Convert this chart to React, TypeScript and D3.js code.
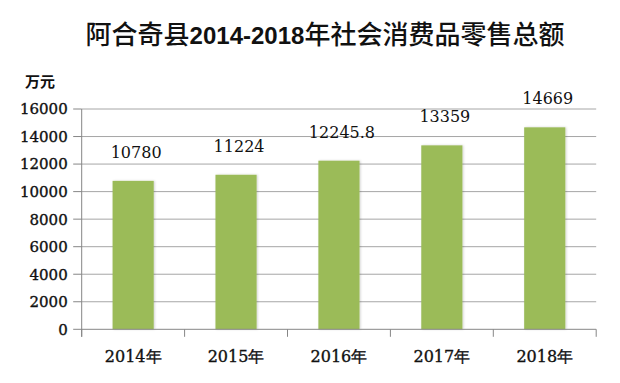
import React from "react";
import * as d3 from "d3";

const years = ["2014年", "2015年", "2016年", "2017年", "2018年"];
const values = [10780, 11224, 12245.8, 13359, 14669];
const valueLabels = ["10780", "11224", "12245.8", "13359", "14669"];
const yTicks = [0, 2000, 4000, 6000, 8000, 10000, 12000, 14000, 16000];
const titleParts = ["阿合奇县", "2014-2018", "年社会消费品零售总额"];
const unitLabel = "万元";

const W = 620;
const H = 383;
const left = 81.7;
const right = 596.2;
const top = 109;
const bottom = 329.3;

export default function App() {
  const x = d3.scaleBand<string>().domain(years).range([left, right]).paddingInner(0.6).paddingOuter(0.3);
  const y = d3.scaleLinear().domain([0, 16000]).range([bottom, top]);
  const step = x.step();
  const boundaries = d3.range(years.length + 1).map((i) => left + i * step);
  const serif = "'DejaVu Serif', serif";
  const heavy = { stroke: "#111", strokeWidth: 0.35 };
  return (
    <svg width={W} height={H} style={{ position: "absolute", left: 0, top: 0, background: "#fff" }}>
      <defs>
        <filter id="sh" x="-20%" y="-5%" width="140%" height="110%">
          <feDropShadow dx="1" dy="0" stdDeviation="1" floodColor="#000" floodOpacity="0.18" />
        </filter>
      </defs>
      <rect x={0} y={0} width={W} height={H} fill="#fff" />
      <text x={325} y={44} textAnchor="middle" fill="#111">
        <tspan fontFamily="'Noto Sans CJK SC'" fontSize={26} fontWeight={500}>{titleParts[0]}</tspan>
        <tspan fontFamily="'Liberation Sans', sans-serif" fontSize={24} fontWeight={700}>{titleParts[1]}</tspan>
        <tspan fontFamily="'Noto Sans CJK SC'" fontSize={26} fontWeight={500}>{titleParts[2]}</tspan>
      </text>
      <text x={40} y={87} textAnchor="middle" fontFamily="'Noto Sans CJK SC'" fontWeight={700} fontSize={15} fill="#111">
        {unitLabel}
      </text>
      {yTicks.map((t) => (
        <g key={t}>
          {t > 0 && <line x1={left} x2={right} y1={y(t)} y2={y(t)} stroke="#a6a6a6" strokeWidth={1} />}
          <line x1={left - 8.5} x2={left} y1={y(t)} y2={y(t)} stroke="#868686" strokeWidth={1} />
          <text x={left - 14} y={y(t)} dy="0.36em" textAnchor="end" fontFamily={serif} fontSize={15} fill="#111" {...heavy}>
            {t}
          </text>
        </g>
      ))}
      {years.map((yr, i) => (
        <rect
          key={yr}
          x={x(yr)}
          y={y(values[i])}
          width={x.bandwidth()}
          height={bottom - y(values[i])}
          fill="#9bbb59"
          filter="url(#sh)"
        />
      ))}
      <line x1={left} x2={left} y1={top} y2={bottom + 7.5} stroke="#868686" strokeWidth={1} />
      <line x1={left} x2={right} y1={bottom} y2={bottom} stroke="#868686" strokeWidth={1} />
      {boundaries.map((b, i) => (
        <line key={i} x1={b} x2={b} y1={bottom} y2={bottom + 7.5} stroke="#868686" strokeWidth={1} />
      ))}
      {years.map((yr) => (
        <text
          key={yr}
          x={(x(yr) as number) + x.bandwidth() / 2}
          y={362}
          textAnchor="middle"
          fontFamily={serif}
          fontSize={16}
          fill="#111"
          {...heavy}
        >
          {yr}
        </text>
      ))}
      {years.map((yr, i) => (
        <text
          key={yr}
          x={(x(yr) as number) + x.bandwidth() / 2 + 3}
          y={y(values[i]) - 23}
          textAnchor="middle"
          fontFamily={serif}
          fontSize={16}
          fill="#111"
        >
          {valueLabels[i]}
        </text>
      ))}
    </svg>
  );
}
